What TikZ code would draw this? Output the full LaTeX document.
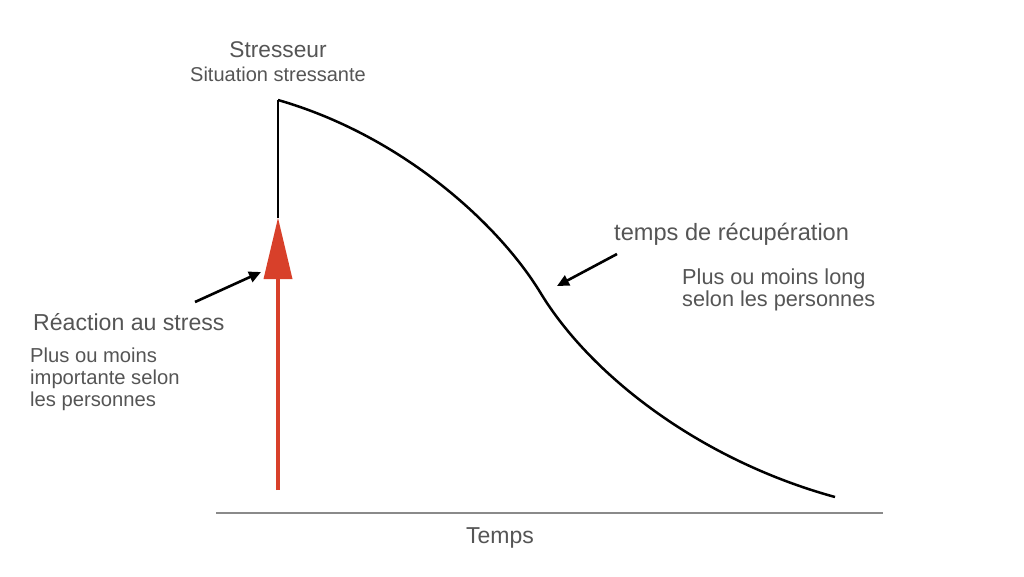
\documentclass[tikz,border=0pt]{standalone}
\usepackage{fontspec}
\setmainfont{Liberation Sans}
\usetikzlibrary{arrows.meta}
\definecolor{txt}{HTML}{555555}
\definecolor{redarrow}{HTML}{D8402A}
\definecolor{axisgray}{HTML}{8A8A8A}
\begin{document}
\begin{tikzpicture}[x=1pt,y=-1pt,
  lbl/.style={text=txt,inner sep=0pt},
  curve/.style={draw=black,line width=2.5pt},
  pointer/.style={draw=black,line width=2.6pt,-{Triangle[length=12pt,width=11pt]}}]
\useasboundingbox[fill=white] (0,0) rectangle (1024,576);
% axis
\coordinate (ax1) at (216,513);
\coordinate (ax2) at (883,513);
\draw[axisgray,line width=1.3pt] (ax1) -- (ax2);
\node[lbl,anchor=base,font=\fontsize{23}{26}\selectfont] (temps) at (500,543) {Temps};
% curve
\coordinate (top) at (278,100);
\coordinate (mid) at (540,292);
\coordinate (fin) at (835,497);
\coordinate (tip) at (278,218);
\coordinate (redbot) at (278,490);
\draw[curve] (tip) -- (top);
\draw[curve] (top) .. controls (400,135) and (497,222) .. (mid)
  .. controls (590,375) and (700,460) .. (fin);
% red arrow
\draw[redarrow,line width=3.2pt] (redbot) -- (278,279);
\fill[redarrow] (tip) -- (292.5,279) -- (263.5,279) -- cycle;
% labels top
\node[lbl,anchor=base,font=\fontsize{22.7}{26}\selectfont] (stresseur) at (278,57) {Stresseur};
\node[lbl,anchor=base,font=\fontsize{20}{23}\selectfont] (situation) at (278,81) {Situation stressante};
% reaction
\node[lbl,anchor=base west,font=\fontsize{23.1}{26}\selectfont] (reaction) at (33,330) {Réaction au stress};
\node[lbl,anchor=north west,align=left,font=\fontsize{20.2}{22}\selectfont] (reacdesc) at (30,348) {Plus ou moins\\importante selon\\les personnes};
\coordinate (rtail) at (195,302);
\coordinate (rhead) at (261,272);
\draw[pointer] (rtail) -- (rhead);
% recuperation
\node[lbl,anchor=base west,font=\fontsize{23.6}{27}\selectfont] (recup) at (614,240) {temps de récupération};
\node[lbl,anchor=north west,align=left,font=\fontsize{21.7}{22}\selectfont] (recupdesc) at (682,269) {Plus ou moins long\\selon les personnes};
\coordinate (ctail) at (617,254);
\coordinate (chead) at (557,286);
\draw[pointer] (ctail) -- (chead);
\end{tikzpicture}
\end{document}
